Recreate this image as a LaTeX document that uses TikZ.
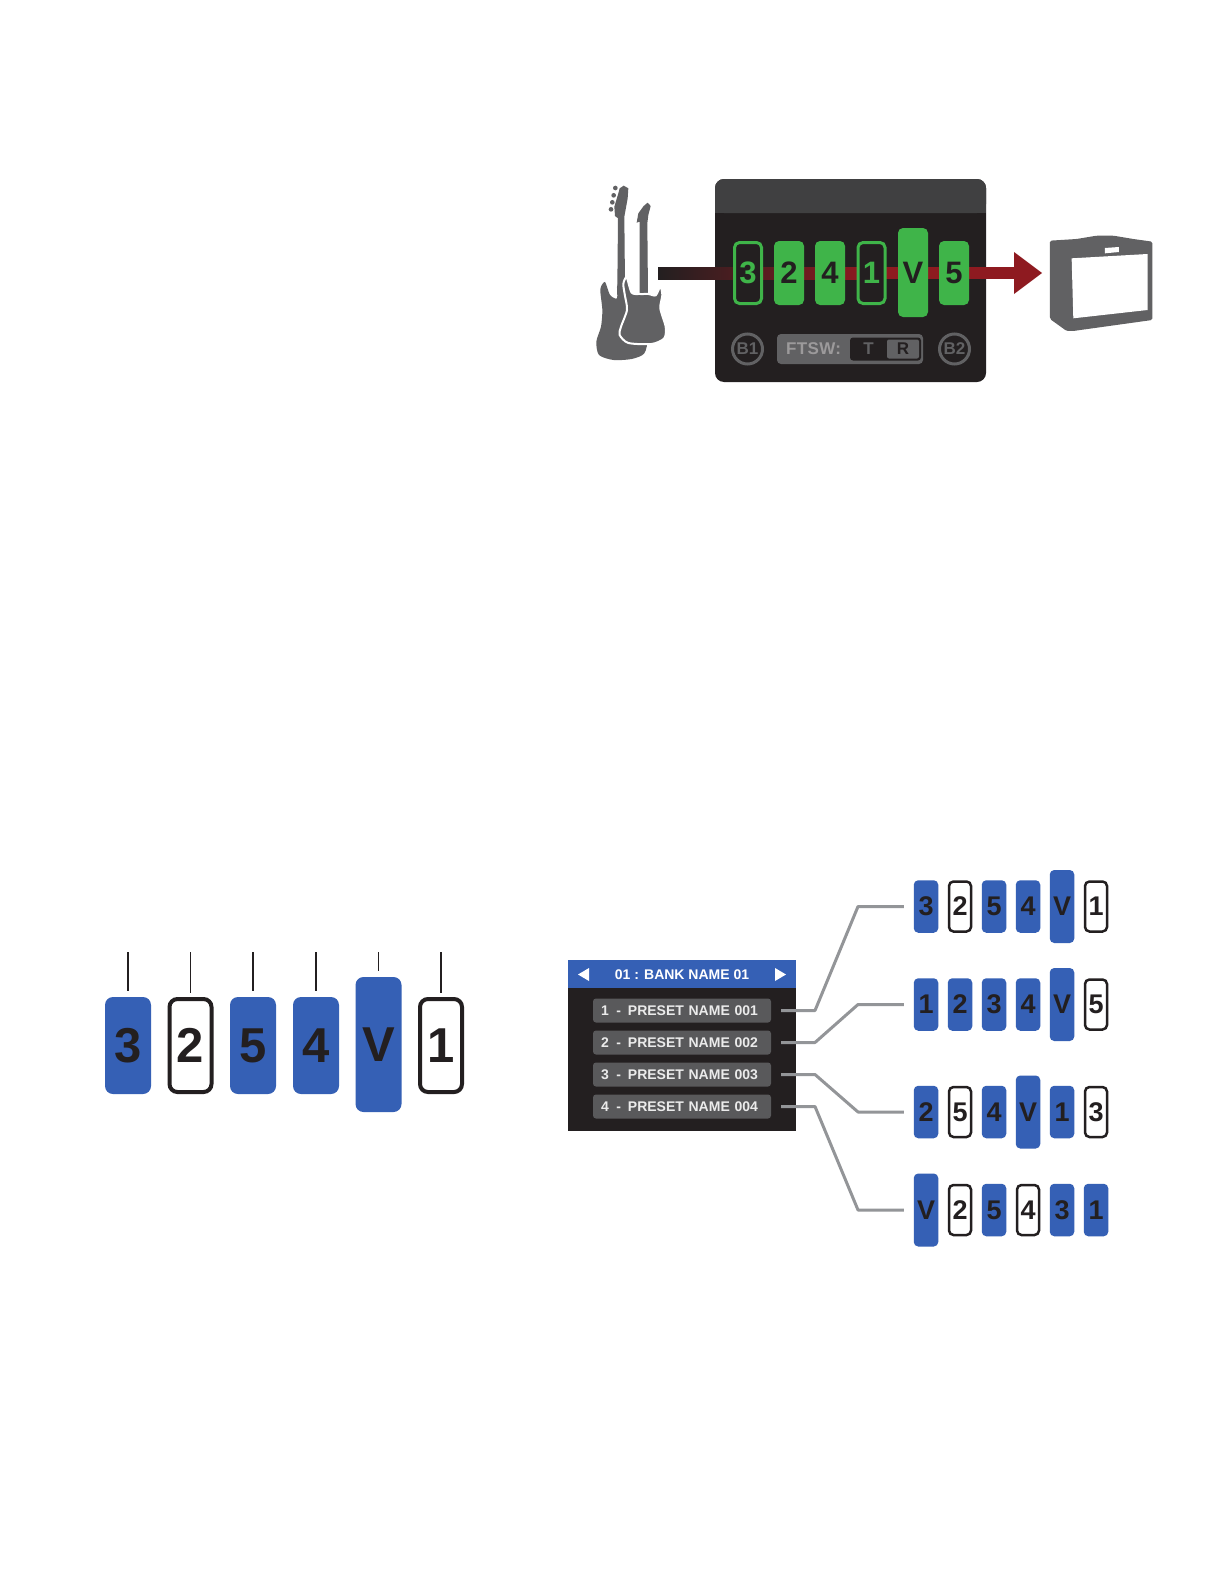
\documentclass[tikz,border=0pt]{standalone}
\usepackage{fontspec}
\setmainfont{Liberation Sans}
\definecolor{pblue}{HTML}{3560B5}
\definecolor{ink}{HTML}{231F20}
\definecolor{pgreen}{HTML}{3FB449}
\definecolor{gry}{HTML}{616163}
\definecolor{presetgry}{HTML}{59595B}
\definecolor{hdr}{HTML}{404041}
\definecolor{sig}{HTML}{8E1A20}
\definecolor{conngry}{HTML}{939598}
\newcommand{\fs}[1]{\fontsize{#1}{#1}\selectfont\bfseries}
\tikzset{
 pbase/.style={rectangle,inner sep=0pt,outer sep=0pt,text=ink},
 lg/.style={font=\fs{49},rounded corners=8pt,minimum width=46pt,minimum height=97pt},
 lgv/.style={lg,minimum height=135pt},
 lgout/.style={lg,minimum width=42pt,minimum height=93pt,line width=4pt},
 smsz/.style={font=\fs{27},rounded corners=4.5pt,minimum width=24.5pt,minimum height=52.5pt},
 smb/.style={pbase,smsz,fill=pblue},
 smv/.style={smb,minimum height=73pt},
 smo/.style={pbase,smsz,draw=ink,fill=white,line width=2.5pt,minimum width=22pt,minimum height=50pt},
 dvsz/.style={font=\fs{31},rounded corners=5pt,minimum width=30pt,minimum height=64pt},
 dvon/.style={pbase,dvsz,fill=pgreen},
 dvv/.style={dvon,minimum height=89pt},
 dvoff/.style={pbase,dvsz,fill=ink,draw=pgreen,text=pgreen,line width=3pt,minimum width=27pt,minimum height=61pt},
 tick/.style={draw=ink,line width=1.5pt,shorten >=6pt},
 conn/.style={draw=conngry,line width=3pt,line join=round},
 presetbox/.style={rectangle,fill=presetgry,rounded corners=3pt,minimum height=24pt,text width=162pt,inner xsep=8pt,inner ysep=0pt,align=left,text=white!92!black,font=\fs{14},outer sep=0pt},
 bcirc/.style={circle,draw=gry,line width=3pt,minimum size=30pt,inner sep=0pt,text=gry,font=\fs{17}},
 tiny/.style={rectangle,rounded corners=2pt,inner sep=0pt,font=\fs{17}},
 sil/.style={fill=gry,draw=none}
}
\begin{document}
\begin{tikzpicture}[x=1pt,y=-1pt]
\useasboundingbox (0,0) rectangle (1224,1584);
\fill[white] (0,0) rectangle (1224,1584);

% guitars (drawn in zoomed local units)
\begin{scope}[shift={(585,170)},x=0.3333pt,y=-0.3333pt]
 \fill[gry] (97,345) -- (99,145) -- (90,138) -- (88,110) -- (100,70) -- (104,55) -- (116,47) -- (130,55) -- (128,85) -- (118,140) -- (120,345) -- cycle;
 \foreach \tx/\ty in {91/54, 86/76, 82/97, 78/118} \fill[gry] (\tx,\ty) circle[radius=7];
 \fill[sil] plot[smooth cycle,tension=0.45] coordinates {(60,336) (46,358) (52,420) (48,470) (34,515) (42,555) (85,570) (140,567) (178,550) (186,500) (150,400) (120,340) (97,345) (96,385) (75,375)};
 \fill[gry] (164,375) -- (164,155) -- (155,158) -- (160,130) -- (176,108) -- (188,98) -- (197,108) -- (190,135) -- (187,160) -- (189,375) -- cycle;
 \draw[sil,draw=white,line width=2pt,fill=gry] plot[smooth cycle,tension=0.45] coordinates {(125,322) (115,342) (120,378) (126,420) (108,470) (104,495) (130,519) (200,522) (238,505) (242,470) (226,415) (232,375) (226,350) (212,376) (190,372) (165,372) (140,368)};
\end{scope}

% processor
\node[rectangle,fill=ink,rounded corners=9pt,minimum width=271pt,minimum height=203pt,inner sep=0pt,outer sep=0pt] (device) at (850.5,280.5) {};
\fill[hdr,rounded corners=9pt] (715,213) -- (715,179) -- (986,179) -- (986,213) -- cycle;
\fill[hdr] (715,200) rectangle (986,213);
\coordinate (sigstart) at (658,273);
\coordinate (sigmid) at (866,273);
\coordinate (tipbase) at (1014,273);
\coordinate (tip) at (1042,273);
\path[left color=ink,right color=sig] (sigstart|-0,267) rectangle (sigmid|-0,279);
\fill[sig] (sigmid|-0,267) rectangle (tipbase|-0,279);
\fill[sig] (tip) -- (1014,252) -- (1014,294) -- cycle;

\node[dvoff] (d1) at (748,273) {3};
\node[dvon]  (d2) at (789,273) {2};
\node[dvon]  (d3) at (830,273) {4};
\node[dvoff] (d4) at (871.5,273) {1};
\node[dvv]   (d5) at (913,272.5) {V};
\node[dvon]  (d6) at (954,273) {5};

\node[bcirc] (b1) at (747.5,349) {B1};
\node[bcirc] (b2) at (954.5,349) {B2};
\node[rectangle,fill=gry,rounded corners=4pt,minimum width=146pt,minimum height=30pt,inner sep=0pt] (ftsw) at (850,349) {};
\node[tiny,text=ink!45!white,anchor=west] (ftswtxt) at (786,349) {\addfontfeature{LetterSpace=2}FTSW:};
\node[rectangle,fill=ink,rounded corners=3pt,minimum width=71pt,minimum height=23pt,inner sep=0pt] (tr) at (885.5,349) {};
\node[tiny,text=gry] (t) at (868.5,349) {T};
\node[tiny,fill=gry,text=ink,minimum width=32pt,minimum height=19pt] (r) at (903,349) {R};

% amplifier
\begin{scope}[shift={(860,170)},x=0.3333pt,y=-0.3333pt]
 \fill[gry,rounded corners=1.5pt] (570,212) -- (650,207) -- (710,197) -- (760,197) -- (820,207) -- (877,215) -- (877,450) -- (640,483) -- (620,483) -- (570,447) -- cycle;
 \fill[white] (635,265) -- (863,252) -- (863,420) -- (640,445) -- cycle;
 \fill[white] (735,234) -- (777,231) -- (777,246) -- (735,250) -- cycle;
\end{scope}

% left row of switches
\node[pbase,lg,fill=pblue] (l1) at (128,1045.5) {3};
\node[pbase,lgout,draw=ink,fill=white] (l2) at (190.5,1045.5) {2};
\node[pbase,lg,fill=pblue] (l3) at (253,1045.5) {5};
\node[pbase,lg,fill=pblue] (l4) at (316,1045.5) {4};
\node[pbase,lgv,fill=pblue] (l5) at (378.5,1044.5) {V};
\node[pbase,lgout,draw=ink,fill=white] (l6) at (441,1045.5) {1};
\foreach \i/\x in {1/128,2/190.5,3/253,4/316,5/378.5,6/441}{
  \coordinate (lt\i) at (\x,952);
  \draw[tick] (lt\i) -- (l\i.north);
}

% bank display
\node[rectangle,fill=ink,minimum width=228pt,minimum height=171pt,inner sep=0pt,outer sep=0pt] (bank) at (682,1045.5) {};
\node[rectangle,fill=pblue,minimum width=228pt,minimum height=28pt,inner sep=0pt,outer sep=0pt] (bankhdr) at (682,974) {};
\node[text=white,font=\fs{14},inner sep=0pt] (banktxt) at (682,974.5) {01 : BANK NAME 01};
\fill[white] (578,974.5) -- (589,968) -- (589,981) -- cycle;
\fill[white] (786,974.5) -- (775,968) -- (775,981) -- cycle;
\newcommand{\pdash}{\hspace*{7.5pt}-\hspace*{7pt}}
\node[presetbox] (p1) at (682,1010.5) {1\pdash PRESET NAME 001};
\node[presetbox] (p2) at (682,1042.5) {2\pdash PRESET NAME 002};
\node[presetbox] (p3) at (682,1074.5) {3\pdash PRESET NAME 003};
\node[presetbox] (p4) at (682,1106.5) {4\pdash PRESET NAME 004};

% small switch rows
\foreach \n/\x/\t/\s in {a/926/3/smb,b/960/2/smo,c/994/5/smb,d/1028/4/smb,e/1062/V/smv,f/1096/1/smo}
  \node[\s] (r1\n) at (\x,906.5) {\t};
\foreach \n/\x/\t/\s in {a/926/1/smb,b/960/2/smb,c/994/3/smb,d/1028/4/smb,e/1062/V/smv,f/1096/5/smo}
  \node[\s] (r2\n) at (\x,1004.5) {\t};
\foreach \n/\x/\t/\s in {a/926/2/smb,b/960/5/smo,c/994/4/smb,d/1028/V/smv,e/1062/1/smb,f/1096/3/smo}
  \node[\s] (r3\n) at (\x,1112) {\t};
\foreach \n/\x/\t/\s in {a/926/V/smv,b/960/2/smo,c/994/5/smb,d/1028/4/smo,e/1062/3/smb,f/1096/1/smb}
  \node[\s] (r4\n) at (\x,1210) {\t};

% connectors
\draw[conn,shorten <=10pt,shorten >=10pt] (p1.east) -- (815,1010.5) -- (858,906.5) -- (r1a.west);
\draw[conn,shorten <=10pt,shorten >=10pt] (p2.east) -- (815,1042.5) -- (858,1004.5) -- (r2a.west);
\draw[conn,shorten <=10pt,shorten >=10pt] (p3.east) -- (815,1074.5) -- (858,1112) -- (r3a.west);
\draw[conn,shorten <=10pt,shorten >=10pt] (p4.east) -- (815,1106.5) -- (858,1210) -- (r4a.west);
\end{tikzpicture}
\end{document}
